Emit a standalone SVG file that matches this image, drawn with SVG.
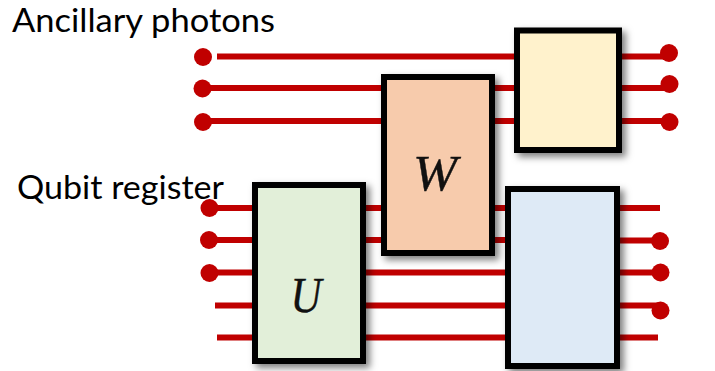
<svg xmlns="http://www.w3.org/2000/svg" width="715" height="371" viewBox="0 0 715 371">
<style>
.w{stroke:#c00000;stroke-width:6;fill:none}
.d{fill:#c00000}
.b{stroke:#000;stroke-width:6;filter:url(#s)}
.t{font-family:"Lato","Open Sans",sans-serif;font-size:33px;fill:#000}
.m{font-family:"Liberation Serif","DejaVu Serif",serif;font-style:italic;font-size:50px;fill:#111;stroke:#111;stroke-width:.4;text-anchor:middle}
</style>
<defs><filter id="s" x="-15%" y="-15%" width="135%" height="130%"><feDropShadow dx="4" dy="4" stdDeviation="3.5" flood-color="#000" flood-opacity="0.5"/></filter></defs>
<rect width="715" height="371" fill="#fff"/>
<g id="connectors">
<path class="w" d="M217 56.500H514M203 88H514M203 121H514M622 56.500H669M622 88H669M622 121H669"/>
<path class="w" d="M209 208H505M209 240H505M209 272.500H505M215 305.500H505M217 337.500H505"/>
<path class="w" d="M620 208H660M620 240.500H660M620 272.500H660M620 305.500H660M620 337.500H658"/>
<circle class="d" cx="203" cy="57" r="9"/><circle class="d" cx="202.500" cy="88.500" r="9"/><circle class="d" cx="203" cy="122" r="9"/>
<circle class="d" cx="669" cy="53" r="9"/><circle class="d" cx="669.500" cy="84" r="9"/><circle class="d" cx="669.500" cy="122" r="9"/>
<circle class="d" cx="209.500" cy="208" r="9"/><circle class="d" cx="209" cy="240" r="9"/><circle class="d" cx="209.500" cy="273" r="9"/>
<circle class="d" cx="660" cy="241" r="9"/><circle class="d" cx="660.500" cy="272.500" r="9"/><circle class="d" cx="660.500" cy="310.500" r="9"/>
</g>
<g id="node-u"><rect class="b" x="255" y="185" width="108" height="176" fill="#e2efd9"/><text class="m" x="306" y="312" textLength="31" lengthAdjust="spacingAndGlyphs">U</text></g>
<g id="node-w"><rect class="b" x="384" y="77" width="108" height="176" fill="#f7cbac"/><text class="m" x="435" y="190" textLength="44" lengthAdjust="spacingAndGlyphs">W</text></g>
<g id="node-yellow"><rect class="b" x="517" y="30.500" width="102" height="119.500" fill="#fff2cc"/></g>
<g id="node-blue"><rect class="b" x="508" y="189" width="109" height="177" fill="#deeaf6"/></g>
<text id="label-ancillary" class="t" x="12" y="32" textLength="263" lengthAdjust="spacingAndGlyphs">Ancillary photons</text>
<text id="label-qubit" class="t" x="17" y="199" textLength="207" lengthAdjust="spacingAndGlyphs">Qubit register</text>
</svg>
